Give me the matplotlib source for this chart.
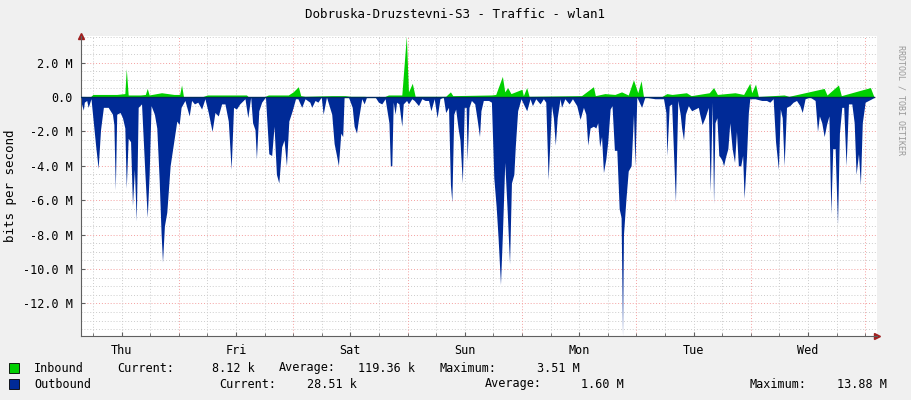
import matplotlib
matplotlib.use("Agg")
import matplotlib.pyplot as plt
import numpy as np

title = "Dobruska-Druzstevni-S3 - Traffic - wlan1"
day_labels = ["Thu", "Fri", "Sat", "Sun", "Mon", "Tue", "Wed"]
ytick_vals = [2, 0, -2, -4, -6, -8, -10, -12]
ytick_labels = ["2.0 M", "0.0", "-2.0 M", "-4.0 M", "-6.0 M", "-8.0 M", "-10.0 M", "-12.0 M"]

# hours since Thursday 00:00, values in Mbit/s
out_t = [3.5,4.0,4.2,4.7,5.0,5.6,6.1,6.6,7.1,7.6,8.2,9.2,10.1,10.4,10.7,11.0,11.7,12.2,12.7,13.0,13.4,13.9,14.3,14.7,15.1,15.5,16.2,16.9,17.4,17.8,18.2,18.9,19.4,19.9,20.3,20.6,21.0,21.5,22.2,22.9,23.6,24.1,24.5,25.3,26.2,26.7,27.3,28.0,28.8,29.5,30.2,31.0,31.6,32.3,33.0,33.7,34.4,35.0,35.5,36.1,36.8,37.9,38.5,39.1,39.5,40.0,40.3,40.8,41.4,42.2,42.9,43.5,44.0,44.5,45.0,45.6,46.1,46.6,47.1,47.8,48.5,49.0,49.8,50.5,51.5,51.9,52.6,53.2,53.9,54.3,55.0,56.1,56.6,57.1,57.5,58.0,58.4,58.7,59.6,60.4,60.8,61.3,61.7,62.4,62.9,63.4,65.2,65.9,66.6,67.3,68.1,68.4,68.7,69.0,69.4,69.7,70.2,70.8,71.1,71.8,72.2,72.9,73.4,74.3,75.0,75.7,76.4,76.9,77.6,78.2,78.8,79.5,80.0,80.6,81.0,81.3,81.7,82.1,82.6,83.0,83.5,83.9,84.3,84.5,84.9,85.4,86.1,86.6,87.1,87.4,87.9,89.0,89.6,90.1,90.6,91.0,91.5,91.9,92.4,92.9,93.4,93.8,94.3,94.6,95.1,95.8,97.0,97.7,98.2,98.9,99.8,100.5,101.0,101.5,102.2,102.6,103.0,103.4,104.0,104.3,105.0,105.9,106.6,107.5,108.2,108.9,109.4,109.8,110.3,111.0,111.5,111.9,112.3,112.7,113.1,113.6,114.0,114.5,114.9,115.4,115.9,116.4,116.8,117.1,117.3,117.8,118.3,118.9,119.4,119.7,120.1,121.1,121.8,123.9,125.7,126.2,126.4,126.9,127.4,128.2,128.7,129.2,129.5,129.9,130.3,130.9,131.6,132.3,133.0,133.3,133.8,134.4,135.1,135.5,135.9,136.2,136.5,136.9,137.3,137.6,138.0,138.3,138.7,139.2,139.6,140.1,140.6,141.0,141.4,141.9,142.3,142.6,143.1,143.5,143.8,144.9,146.3,147.3,148.0,148.7,149.2,149.8,150.2,150.6,151.0,151.5,152.2,152.9,153.6,154.3,154.8,155.4,156.4,157.5,158.0,158.4,158.9,159.4,159.9,160.4,160.8,161.2,161.7,162.2,162.6,163.1,163.5,164.0,164.5,165.2,165.7,166.1,166.6,167.0,167.4,168.0,168.7,169.4,169.8]
out_v = [0.3,0.76,0.3,0.2,0.6,0.1,1.5,2.9,4.15,1.9,0.6,0.6,1.0,1.6,5.4,1.0,0.9,1.2,1.8,5.3,2.4,2.6,6.3,4.2,7.2,0.6,0.4,4.4,7.0,4.5,0.5,1.0,1.8,4.8,7.9,9.6,7.5,6.7,4.0,2.7,1.4,1.6,0.6,0.2,1.1,0.2,0.4,0.3,0.7,0.1,0.9,2.0,0.9,1.1,0.4,0.4,1.4,4.2,0.6,0.7,0.4,0.1,1.2,0.0,1.5,1.9,3.6,0.8,0.3,0.0,3.3,3.4,1.7,4.5,5.0,2.9,2.5,4.0,1.4,0.8,0.1,0.1,0.6,0.1,0.3,0.6,0.2,0.3,0.0,1.0,0.0,1.0,2.7,3.4,4.0,2.1,2.3,0.0,0.0,0.6,1.7,2.1,1.3,0.1,0.4,0.0,0.0,0.3,0.4,0.1,1.5,4.0,4.0,0.3,1.0,0.3,0.4,1.7,0.4,0.2,0.4,0.1,0.2,0.5,0.1,0.2,0.2,0.8,0.1,1.2,0.1,0.0,0.9,0.6,5.1,6.1,1.0,0.7,1.8,2.5,5.0,0.6,0.6,3.7,0.6,0.2,0.4,1.3,2.3,0.8,0.2,0.2,0.3,4.7,6.4,8.2,10.9,8.0,3.8,6.6,9.7,5.0,4.5,2.9,0.8,0.1,0.8,0.1,0.5,0.1,0.4,0.1,0.3,4.8,0.5,1.2,2.8,1.2,0.1,0.6,0.1,0.4,0.1,0.5,1.3,0.6,1.0,2.8,1.8,1.7,1.8,1.5,2.9,2.3,4.4,3.6,2.6,0.7,0.5,3.1,3.1,6.5,7.0,13.9,8.0,6.0,4.3,4.0,1.0,4.0,0.0,0.6,0.0,0.1,0.1,0.9,3.4,0.5,0.4,6.1,0.2,1.0,1.8,2.5,1.0,0.5,0.8,0.7,0.6,1.0,1.6,1.2,0.6,5.5,0.3,6.2,1.5,1.2,3.4,3.5,3.7,4.0,3.5,3.0,1.5,3.0,3.8,2.0,4.0,4.0,3.4,5.9,3.5,0.9,0.1,0.1,0.2,0.2,0.3,0.1,2.6,4.2,0.7,1.2,4.0,0.6,0.5,0.3,0.2,0.5,0.9,0.1,0.0,0.2,2.0,1.1,1.5,2.3,1.6,1.1,6.8,3.0,3.0,7.4,2.1,0.6,0.6,4.0,0.4,0.4,1.5,4.5,3.3,5.1,1.5,0.3,0.2,0.1,0.03]

in_t = [3.5,5.5,6.0,9.0,11.0,12.7,13.0,13.4,16.0,17.0,17.4,17.8,20.4,23.0,24.2,24.6,25.0,29.0,30.0,38.2,38.6,42.0,42.8,47.0,48.0,49.1,49.6,50.5,56.1,58.9,60.0,63.0,64.0,67.0,68.0,70.8,71.75,72.2,73.0,73.6,80.0,81.0,81.5,89.6,90.5,91.9,92.4,93.0,93.7,96.0,96.3,97.0,97.5,108.5,111.0,111.4,113.4,115.5,116.9,118.3,119.4,120.3,121.0,121.5,125.3,126.4,127.5,130.5,131.5,135.3,136.2,137.0,140.7,142.5,143.8,144.2,145.0,145.6,151.0,152.0,159.4,160.0,162.4,163.0,169.1,169.8]
in_v = [0.02,0.02,0.15,0.15,0.15,0.2,1.65,0.12,0.12,0.15,0.5,0.12,0.25,0.15,0.15,0.7,0.02,0.02,0.12,0.12,0.02,0.02,0.12,0.12,0.3,0.6,0.08,0.04,0.08,0.08,0.04,0.04,0.0,0.0,0.12,0.12,3.55,0.3,0.8,0.04,0.04,0.3,0.08,0.12,0.15,1.2,0.3,0.55,0.2,0.45,0.08,0.55,0.04,0.08,0.6,0.08,0.2,0.15,0.3,0.12,1.0,0.25,0.95,0.02,0.02,0.2,0.15,0.25,0.08,0.25,0.55,0.15,0.25,0.15,0.8,0.25,0.75,0.03,0.12,0.04,0.5,0.12,0.7,0.08,0.55,0.04]

W, H = 911, 400
fig = plt.figure(figsize=(W/100, H/100), dpi=100, facecolor="#f0f0f0")
L, R, T, B = 81, 877, 36, 336
ax = fig.add_axes([L/W, 1-B/H, (R-L)/W, (B-T)/H])
ax.set_facecolor("white")
t0 = (81-64.3)/4.767
t1 = (877-64.3)/4.767
ax.set_xlim(t0, t1)
ax.set_ylim(-13.9, 3.55)

mono = "DejaVu Sans Mono"
for y in np.arange(-13.5, 3.6, 0.5):
    major = abs(y/2 - round(y/2)) < 1e-6
    ax.axhline(y, color="#f4a0a0" if major else "#cccccc", lw=0.7, ls=(0, (1, 2)), zorder=1)
for h in range(0, 172, 6):
    if h < t0:
        continue
    ax.axvline(h, color="#f4a0a0" if h % 24 == 0 else "#cccccc", lw=0.7, ls=(0, (1, 2)), zorder=1)

ot = np.array(out_t); ov = -np.array(out_v)
it = np.array(in_t); iv = np.array(in_v)
ax.fill_between(ot, ov, 0, color="#002a97", lw=0, zorder=2)
ax.fill_between(it, iv, 0, color="#00cf00", lw=0, zorder=3)
ax.plot([t0, 169.8], [0, 0], color="#002a60", lw=1.0, zorder=4)

for s in ["top", "right"]:
    ax.spines[s].set_visible(False)
for s in ["left", "bottom"]:
    ax.spines[s].set_color("#606060")
    ax.spines[s].set_linewidth(0.8)
ax.plot(1.0, 0, ">", transform=ax.transAxes, color="#a02020", ms=4, clip_on=False)
ax.plot(0, 1.0, "^", transform=ax.transAxes, color="#a02020", ms=4, clip_on=False)

ax.set_yticks(ytick_vals)
ax.set_yticklabels(ytick_labels, fontfamily=mono, fontsize=8.5)
ax.set_xticks([12 + 24*k for k in range(7)])
ax.set_xticklabels(day_labels, fontfamily=mono, fontsize=8.5)
ax.set_xticks(np.arange(6, 171, 6), minor=True)
ax.tick_params(axis="both", length=3, color="#606060", direction="in", pad=6)
ax.tick_params(axis="x", which="minor", length=2, color="#606060", direction="in")
ax.set_ylabel("bits per second", fontfamily=mono, fontsize=9, labelpad=4)

fig.text(455/W, 1-15/H, title, ha="center", va="center", fontfamily=mono, fontsize=9)
fig.text(901/W, 1-100/H, "RRDTOOL / TOBI OETIKER", rotation=270, ha="center", va="center",
         fontfamily=mono, fontsize=6, color="#999999")

def row(y, color, items):
    fig.patches.append(plt.Rectangle((9/W, 1-(y+5)/H), 10/W, 10/H, transform=fig.transFigure,
                                     facecolor=color, edgecolor="black", lw=0.6))
    for x, s in items:
        fig.text(x/W, 1-y/H, s, ha="left", va="center", fontfamily=mono, fontsize=8.5)

row(368, "#00cf00", [(34, "Inbound"), (117, "Current:"), (212, "8.12 k"), (279, "Average:"),
                     (358, "119.36 k"), (440, "Maximum:"), (537, "3.51 M")])
row(384, "#002a97", [(34, "Outbound"), (219, "Current:"), (307, "28.51 k"), (485, "Average:"),
                     (581, "1.60 M"), (749, "Maximum:"), (837, "13.88 M")])

fig.savefig("out.png", dpi=100, facecolor=fig.get_facecolor())
